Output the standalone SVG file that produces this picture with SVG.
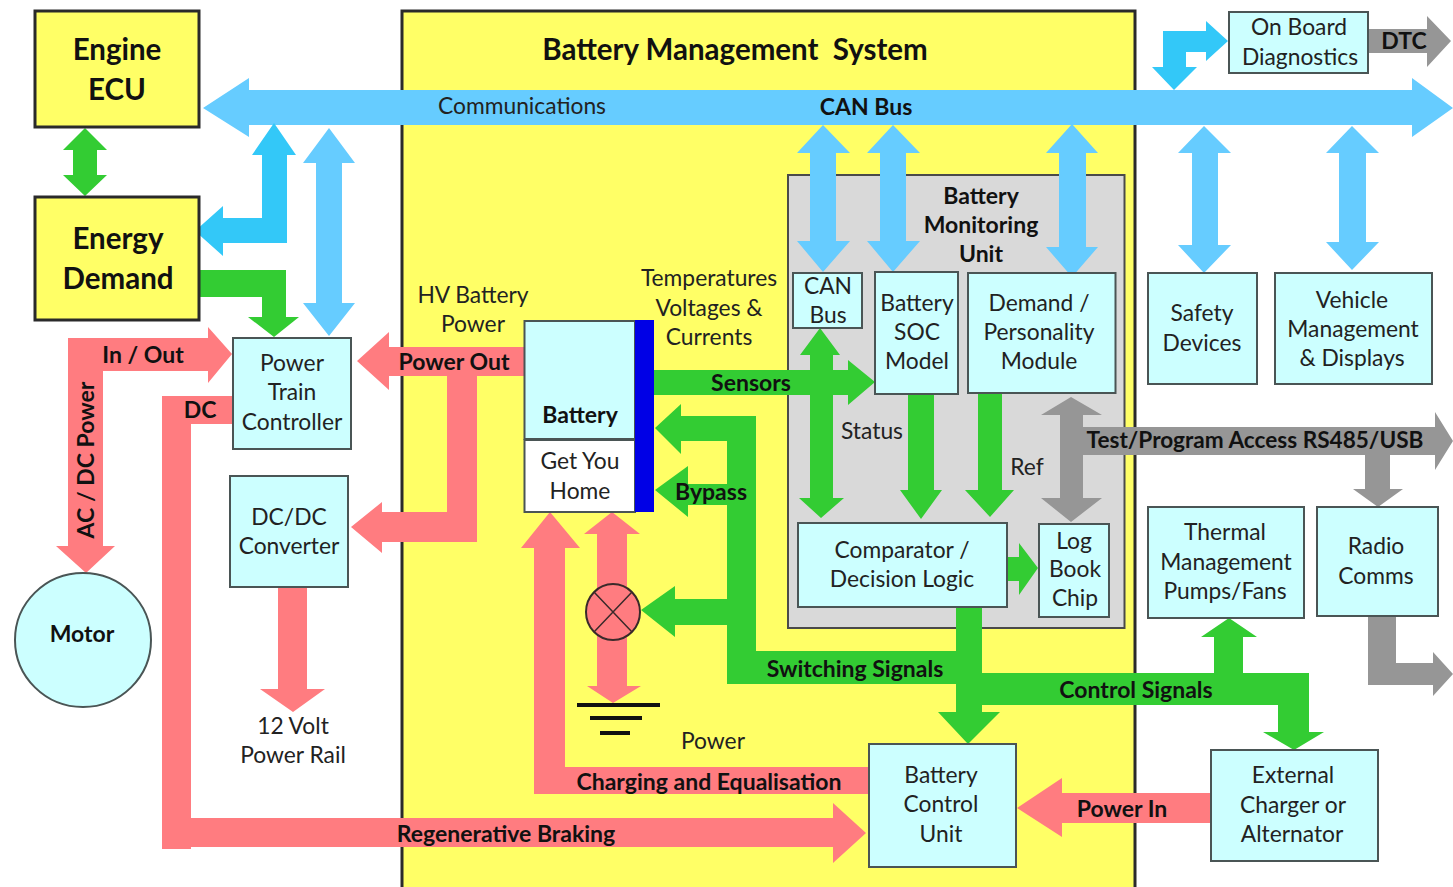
<svg xmlns="http://www.w3.org/2000/svg" width="1453" height="887" viewBox="0 0 1453 887">
<style>
text{font-family:"Lato","Carlito","Liberation Sans",sans-serif;fill:#222;text-anchor:middle;font-size:22.800px}
.b{font-weight:700;fill:#111;font-size:23px}
.big{font-weight:700;fill:#111;font-size:29.500px}
.y{fill:#FFFF66;stroke:#2a2a2a;stroke-width:3}
.c{fill:#CCFFFF;stroke:#4a5555;stroke-width:2}
.pk{fill:#FF7C80}.gr{fill:#33CC33}.bl{fill:#66CCFF}.cy{fill:#33C8F8}.gy{fill:#969696}
.ln{stroke:#111;stroke-linecap:butt;fill:none}
</style>
<rect width="1453" height="887" fill="#fff"/>
<g id="bms">
<rect class="y" x="402" y="11" width="733" height="880"/>
<text class="big" x="735" y="60" xml:space="preserve">Battery Management  System</text>
</g>
<g id="bmu">
<rect x="788" y="175" width="336.500" height="453" fill="#D9D9D9" stroke="#4a4a4a" stroke-width="2"/>
<text class="b" x="981" y="204">Battery</text>
<text class="b" x="981" y="233">Monitoring</text>
<text class="b" x="981" y="262">Unit</text>
</g>
<g id="connectors">
<polygon class="bl" points="203,108 249,78 249,90 1412,90 1412,78 1453,108 1412,137 1412,125 249,125 249,137"/>
<polygon class="bl" points="823,125 850,153 836,153 836,241 850,241 823,272 797,241 810,241 810,153 797,153"/>
<polygon class="bl" points="893,125 920,153 906,153 906,241 920,241 893,272 867,241 880,241 880,153 867,153"/>
<polygon class="bl" points="1072,124 1098,153 1086,153 1086,247 1098,247 1072,277 1046,247 1059,247 1059,153 1046,153"/>
<polygon class="bl" points="1204,126 1231,153 1218,153 1218,245 1231,245 1204,273 1178,245 1192,245 1192,153 1178,153"/>
<polygon class="bl" points="1352,126 1379,153 1366,153 1366,242 1379,242 1352,270 1326,242 1339,242 1339,153 1326,153"/>
<polygon class="bl" points="329,128 355,163 342,163 342,303 355,303 329,336 303,303 316,303 316,163 303,163"/>
<polygon class="cy" points="274,123 296,155 287,155 287,243 223,243 223,256 195,231 223,206 223,218 262,218 262,155 252,155"/>
<polygon class="cy" points="1163,31 1206,31 1206,21 1228,41 1206,61 1206,52 1186,52 1186,67 1197,67 1174,90 1152,67 1163,67"/>
<polygon class="gr" points="85,128 107,150 97,150 97,175 107,175 85,196 63,175 73,175 73,150 63,150"/>
<polygon class="gr" points="199,270 286,270 286,317 299,317 274,337 248,317 262,317 262,297 199,297"/>
<polygon class="gr" points="654,370 848,370 848,360 875,382 848,405 848,395 654,395"/>
<polygon class="gr" points="820,328 840,355 833,355 833,498 844,498 821,518 799,498 810,498 810,355 800,355"/>
<polygon class="gr" points="908,394 934,394 934,490 942,490 921,519 900,490 908,490"/>
<polygon class="gr" points="978,393 1002,393 1002,490 1014,490 990,517 965,490 978,490"/>
<polygon class="gr" points="1007,557 1019,557 1019,543 1038,568 1019,595 1019,581 1007,581"/>
<polygon class="gr" points="756,416 756,651 956,651 956,607 982,607 982,673 1309,673 1309,732 1324,732 1294,750 1263,732 1278,732 1278,705 982,705 982,712 1000,712 968,744 938,712 956,712 956,684 727,684 727,441 681,441 681,454 655,428 681,404 681,416"/>
<polygon class="gr" points="727,484 688,484 688,466 655,490 688,517 688,505 727,505"/>
<polygon class="gr" points="727,599 675,599 675,586 641,610 675,637 675,625 727,625"/>
<polygon class="gr" points="1214,673 1214,637 1201,637 1229,618 1257,637 1243,637 1243,673"/>
<polygon class="gy" points="1071,397 1102,415 1083,415 1083,427 1435,427 1435,412 1453,441 1435,470 1435,455 1390,455 1390,489 1403,489 1378,507 1353,489 1365,489 1365,455 1083,455 1083,498 1102,498 1071,522 1041,498 1060,498 1060,415 1041,415"/>
<polygon class="gy" points="1368,616 1396,616 1396,663 1433,663 1433,652 1453,674 1433,696 1433,685 1368,685"/>
<polygon class="gy" points="1368,29 1427,29 1427,16 1451,41 1427,67 1427,53 1368,53"/>
<polygon class="pk" points="86,573 56,546 68,546 68,338 208,338 208,327 232,354 208,383 208,371 103,371 103,546 115,546"/>
<polygon class="pk" points="233,396 162,396 162,849 191,849 191,847 833,847 833,863 866,833 833,803 833,818 191,818 191,424 233,424"/>
<polygon class="pk" points="524,347 389,347 389,332 357,361 389,390 389,376 447,376 447,512 382,512 382,502 351,527 382,553 382,542 477,542 477,376 524,376"/>
<polygon class="pk" points="278,587 307,587 307,689 325,689 293,712 260,689 278,689"/>
<polygon class="pk" points="550,512 580,548 565,548 565,767 869,767 869,794 534,794 534,548 521,548"/>
<polygon class="pk" points="612,512 640,534 627,534 627,686 641,686 613,703 587,686 597,686 597,534 584,534"/>
<polygon class="pk" points="1211,793 1062,793 1062,778 1017,808 1062,837 1062,823 1211,823"/>
<text x="522" y="114">Communications</text>
<text class="b" x="866" y="115">CAN Bus</text>
<text class="b" x="143" y="363">In / Out</text>
<text class="b" x="200" y="418">DC</text>
<text class="b" x="94" y="460" transform="rotate(-90 94 460)">AC / DC Power</text>
<text class="b" x="454" y="370">Power Out</text>
<text class="b" x="751" y="391">Sensors</text>
<text class="b" x="711" y="500">Bypass</text>
<text class="b" x="855" y="677">Switching Signals</text>
<text class="b" x="1136" y="698">Control Signals</text>
<text class="b" x="1255" y="448" style="font-size:22.600px">Test/Program Access RS485/USB</text>
<text class="b" x="1404" y="49">DTC</text>
<text class="b" x="709" y="790">Charging and Equalisation</text>
<text class="b" x="506" y="842">Regenerative Braking</text>
<text class="b" x="1122" y="817">Power In</text>
<text x="872" y="439">Status</text>
<text x="1027" y="475">Ref</text>
<text x="713" y="749">Power</text>
<text x="473" y="303">HV Battery</text>
<text x="473" y="332">Power</text>
<text x="709" y="286">Temperatures</text>
<text x="709" y="316">Voltages &amp;</text>
<text x="709" y="345">Currents</text>
<text x="293" y="734">12 Volt</text>
<text x="293" y="763">Power Rail</text>
</g>
<g id="engine-ecu"><rect class="y" x="35" y="11" width="164" height="116"/><text class="big" x="117" y="60">Engine</text><text class="big" x="117" y="100">ECU</text></g>
<g id="energy-demand"><rect class="y" x="35" y="197" width="164" height="123"/><text class="big" x="118" y="249">Energy</text><text class="big" x="118" y="289">Demand</text></g>
<g id="power-train"><rect class="c" x="233" y="338" width="118" height="111"/><text x="292" y="371">Power</text><text x="292" y="400">Train</text><text x="292" y="430">Controller</text></g>
<g id="dcdc"><rect class="c" x="230" y="476" width="118" height="111"/><text x="289" y="525">DC/DC</text><text x="289" y="554">Converter</text></g>
<g id="motor"><ellipse cx="83" cy="640" rx="68" ry="67" fill="#CCFFFF" stroke="#4a5555" stroke-width="2"/><text class="b" x="82" y="642">Motor</text></g>
<g id="battery">
<rect x="524.500" y="321" width="110.500" height="118" fill="#CCFFFF" stroke="#4a5555" stroke-width="2"/>
<rect x="524.500" y="440" width="110.500" height="72" fill="#fff" stroke="#4a5555" stroke-width="2"/>
<rect x="635" y="320" width="19" height="192" fill="#0000E6"/>
<text class="b" x="580" y="423">Battery</text><text x="580" y="469">Get You</text><text x="580" y="499">Home</text>
</g>
<g id="lamp"><ellipse cx="613" cy="612" rx="27" ry="28" fill="#FF7C80" stroke="#3a2a2a" stroke-width="2"/><path d="M594,592 632,632 M632,592 594,632" stroke="#3a2a2a" stroke-width="1.500" fill="none"/></g>
<g id="ground"><path class="ln" stroke-width="4" d="M577,705H660"/><path class="ln" stroke-width="4" d="M590,718H642"/><path class="ln" stroke-width="4" d="M600,733H630"/></g>
<g id="can-bus"><rect class="c" x="793" y="273" width="69" height="55"/><text x="828" y="294">CAN</text><text x="828" y="323">Bus</text></g>
<g id="soc"><rect class="c" x="875" y="272" width="83" height="122"/><text x="917" y="311">Battery</text><text x="917" y="340">SOC</text><text x="917" y="369">Model</text></g>
<g id="demand"><rect class="c" x="968" y="273" width="147.500" height="120"/><text x="1039" y="311">Demand /</text><text x="1039" y="340">Personality</text><text x="1039" y="369">Module</text></g>
<g id="comparator"><rect class="c" x="798" y="523" width="209" height="84"/><text x="902" y="558">Comparator /</text><text x="902" y="587">Decision Logic</text></g>
<g id="log-book"><rect class="c" x="1039" y="524" width="70" height="93"/><text x="1074" y="549">Log</text><text x="1075" y="577">Book</text><text x="1075" y="606">Chip</text></g>
<g id="obd"><rect class="c" x="1229" y="12" width="139" height="61"/><text x="1299" y="35">On Board</text><text x="1300" y="65">Diagnostics</text></g>
<g id="safety"><rect class="c" x="1148" y="273" width="109" height="111"/><text x="1202" y="321">Safety</text><text x="1202" y="351">Devices</text></g>
<g id="vehicle"><rect class="c" x="1275" y="273" width="157" height="111"/><text x="1352" y="308">Vehicle</text><text x="1353" y="337">Management</text><text x="1352" y="366">&amp; Displays</text></g>
<g id="thermal"><rect class="c" x="1148" y="507" width="156" height="111"/><text x="1225" y="540">Thermal</text><text x="1226" y="570">Management</text><text x="1225" y="599">Pumps/Fans</text></g>
<g id="radio"><rect class="c" x="1317" y="507" width="121" height="109"/><text x="1376" y="554">Radio</text><text x="1376" y="584">Comms</text></g>
<g id="bcu"><rect class="c" x="869" y="744" width="147" height="123"/><text x="941" y="783">Battery</text><text x="941" y="812">Control</text><text x="941" y="842">Unit</text></g>
<g id="charger"><rect class="c" x="1211" y="750" width="167" height="111"/><text x="1293" y="783">External</text><text x="1293" y="813">Charger or</text><text x="1292" y="842">Alternator</text></g>
</svg>
